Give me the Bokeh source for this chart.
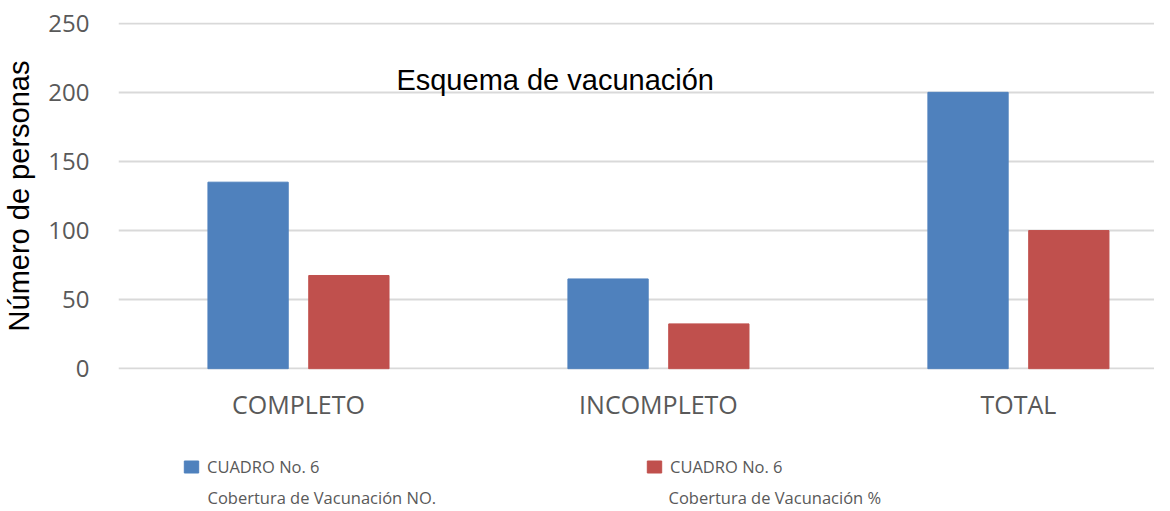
from bokeh.plotting import figure
from bokeh.models import Range1d, FixedTicker, Legend, LegendItem, Label
from bokeh.layouts import column
from bokeh.embed import file_html
from bokeh.resources import INLINE

categories = ["COMPLETO", "INCOMPLETO", "TOTAL"]
cobertura_no = [135, 65, 200]
cobertura_pct = [67.5, 32.5, 100]
series_line1 = ["CUADRO No. 6", "CUADRO No. 6"]
series_line2 = ["Cobertura de Vacunación  NO.", "Cobertura de Vacunación  %"]
y_ticks = [0, 50, 100, 150, 200, 250]

BLUE = "#4f81bd"
RED = "#c0504d"
GRAY = "#595959"
TICK_FONT = "Open Sans"

xpos = list(range(len(categories)))

p = figure(width=1154, height=440, output_backend="svg", toolbar_location=None,
           x_range=Range1d(-0.5, 2.378), y_range=Range1d(-0.5, 250.5),
           min_border_left=108, min_border_right=0, min_border_top=22, min_border_bottom=71)
p.outline_line_color = None

r1 = p.vbar(x=[x - 0.14 for x in xpos], top=cobertura_no, width=0.223, color=BLUE)
r2 = p.vbar(x=[x + 0.14 for x in xpos], top=cobertura_pct, width=0.223, color=RED)

p.xgrid.grid_line_color = None
p.ygrid.grid_line_color = "#d9d9d9"
p.ygrid.grid_line_width = 2
p.yaxis.ticker = FixedTicker(ticks=y_ticks)
p.xaxis.ticker = FixedTicker(ticks=xpos)
p.xaxis.major_label_overrides = {i: c for i, c in enumerate(categories)}

for ax in (p.xaxis[0], p.yaxis[0]):
    ax.axis_line_color = None
    ax.major_tick_line_color = None
    ax.minor_tick_line_color = None
    ax.major_tick_out = 0
    ax.major_tick_in = 0
    ax.major_label_text_font = TICK_FONT
    ax.major_label_text_color = GRAY
    ax.major_label_text_font_size = "24px"

p.xaxis.major_label_text_font_size = "25px"
p.xaxis.major_label_standoff = 17
p.yaxis.major_label_standoff = 29
p.yaxis.axis_label = "Número de personas"
p.yaxis.axis_label_text_font = "Liberation Sans"
p.yaxis.axis_label_text_font_style = "normal"
p.yaxis.axis_label_text_font_size = "29px"
p.yaxis.axis_label_text_color = "black"
p.yaxis.axis_label_standoff = 10

title = Label(x=0.272, y=209, text="Esquema de vacunación", text_font="Liberation Sans",
              text_font_size="29px", text_color="black", text_baseline="alphabetic")
p.add_layout(title)

# legend strip below the chart
lg = figure(width=1154, height=68, output_backend="svg", toolbar_location=None,
            x_range=Range1d(0, 1), y_range=Range1d(0, 1),
            x_axis_type=None, y_axis_type=None,
            min_border_left=108, min_border_right=0, min_border_top=0, min_border_bottom=0)
lg.outline_line_color = None
lg.xgrid.visible = False
lg.ygrid.visible = False
nan = float("nan")
d1 = lg.vbar(x=[nan], top=[nan], width=0.1, color=BLUE)
d2 = lg.vbar(x=[nan], top=[nan], width=0.1, color=RED)

legend = Legend(items=[LegendItem(label=series_line1[0], renderers=[d1]),
                       LegendItem(label=series_line1[1], renderers=[d2])],
                orientation="horizontal", location=(64, 30),
                padding=0, margin=0, spacing=0, border_line_color=None,
                background_fill_alpha=0, glyph_width=18, glyph_height=15,
                label_standoff=7, label_width=438,
                label_text_font=TICK_FONT, label_text_font_size="16.5px",
                label_text_color=GRAY)
lg.add_layout(legend, "center")

for xs, txt in zip([89, 550], series_line2):
    lg.add_layout(Label(x=xs, y=11, x_units="screen", y_units="screen", text=txt,
                        text_font=TICK_FONT, text_font_size="16.5px", text_color=GRAY,
                        text_baseline="middle"))

layout = column(p, lg, spacing=0)
open("out.html", "w").write(file_html(layout, INLINE))
